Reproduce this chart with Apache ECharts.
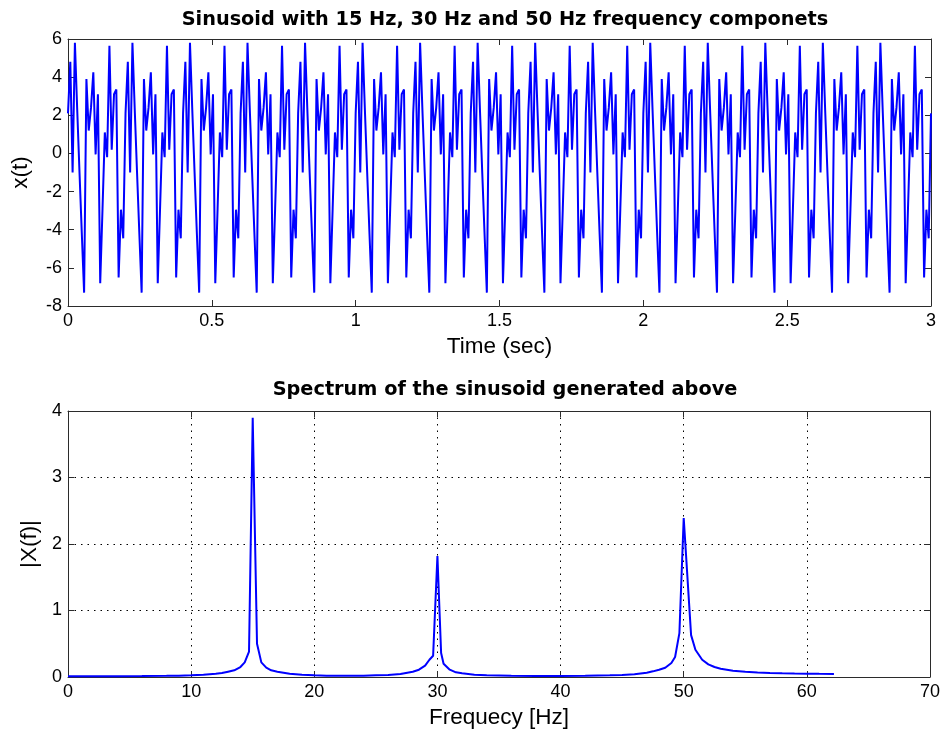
<!DOCTYPE html>
<html>
<head>
<meta charset="utf-8">
<script src="https://cdn.jsdelivr.net/npm/echarts@6/dist/echarts.min.js"></script>
<style>
html,body{margin:0;padding:0;background:#fff;}
#chart{width:943px;height:732px;}
</style>
</head>
<body>
<div id="chart"></div>
<script>
const sampleRate = 125;
const signalValues = [
  2.1, 4.8, -1.0, 5.8, 2.3, -1.0, -4.2, -7.3, 3.9, 1.2, 2.4, 4.25, -0.05, 3.1, -6.8, -2.9, 1.1, -0.2, 5.65, 0.2, 3.1, 3.35, -6.5, -2.95, -4.45,
  2.1, 4.8, -1.0, 5.8, 2.3, -1.0, -4.2, -7.3, 3.9, 1.2, 2.4, 4.25, -0.05, 3.1, -6.8, -2.9, 1.1, -0.2, 5.65, 0.2, 3.1, 3.35, -6.5, -2.95, -4.45,
  2.1, 4.8, -1.0, 5.8, 2.3, -1.0, -4.2, -7.3, 3.9, 1.2, 2.4, 4.25, -0.05, 3.1, -6.8, -2.9, 1.1, -0.2, 5.65, 0.2, 3.1, 3.35, -6.5, -2.95, -4.45,
  2.1, 4.8, -1.0, 5.8, 2.3, -1.0, -4.2, -7.3, 3.9, 1.2, 2.4, 4.25, -0.05, 3.1, -6.8, -2.9, 1.1, -0.2, 5.65, 0.2, 3.1, 3.35, -6.5, -2.95, -4.45,
  2.1, 4.8, -1.0, 5.8, 2.3, -1.0, -4.2, -7.3, 3.9, 1.2, 2.4, 4.25, -0.05, 3.1, -6.8, -2.9, 1.1, -0.2, 5.65, 0.2, 3.1, 3.35, -6.5, -2.95, -4.45,
  2.1, 4.8, -1.0, 5.8, 2.3, -1.0, -4.2, -7.3, 3.9, 1.2, 2.4, 4.25, -0.05, 3.1, -6.8, -2.9, 1.1, -0.2, 5.65, 0.2, 3.1, 3.35, -6.5, -2.95, -4.45,
  2.1, 4.8, -1.0, 5.8, 2.3, -1.0, -4.2, -7.3, 3.9, 1.2, 2.4, 4.25, -0.05, 3.1, -6.8, -2.9, 1.1, -0.2, 5.65, 0.2, 3.1, 3.35, -6.5, -2.95, -4.45,
  2.1, 4.8, -1.0, 5.8, 2.3, -1.0, -4.2, -7.3, 3.9, 1.2, 2.4, 4.25, -0.05, 3.1, -6.8, -2.9, 1.1, -0.2, 5.65, 0.2, 3.1, 3.35, -6.5, -2.95, -4.45,
  2.1, 4.8, -1.0, 5.8, 2.3, -1.0, -4.2, -7.3, 3.9, 1.2, 2.4, 4.25, -0.05, 3.1, -6.8, -2.9, 1.1, -0.2, 5.65, 0.2, 3.1, 3.35, -6.5, -2.95, -4.45,
  2.1, 4.8, -1.0, 5.8, 2.3, -1.0, -4.2, -7.3, 3.9, 1.2, 2.4, 4.25, -0.05, 3.1, -6.8, -2.9, 1.1, -0.2, 5.65, 0.2, 3.1, 3.35, -6.5, -2.95, -4.45,
  2.1, 4.8, -1.0, 5.8, 2.3, -1.0, -4.2, -7.3, 3.9, 1.2, 2.4, 4.25, -0.05, 3.1, -6.8, -2.9, 1.1, -0.2, 5.65, 0.2, 3.1, 3.35, -6.5, -2.95, -4.45,
  2.1, 4.8, -1.0, 5.8, 2.3, -1.0, -4.2, -7.3, 3.9, 1.2, 2.4, 4.25, -0.05, 3.1, -6.8, -2.9, 1.1, -0.2, 5.65, 0.2, 3.1, 3.35, -6.5, -2.95, -4.45,
  2.1, 4.8, -1.0, 5.8, 2.3, -1.0, -4.2, -7.3, 3.9, 1.2, 2.4, 4.25, -0.05, 3.1, -6.8, -2.9, 1.1, -0.2, 5.65, 0.2, 3.1, 3.35, -6.5, -2.95, -4.45,
  2.1, 4.8, -1.0, 5.8, 2.3, -1.0, -4.2, -7.3, 3.9, 1.2, 2.4, 4.25, -0.05, 3.1, -6.8, -2.9, 1.1, -0.2, 5.65, 0.2, 3.1, 3.35, -6.5, -2.95, -4.45,
  2.1, 4.8, -1.0, 5.8, 2.3, -1.0, -4.2, -7.3, 3.9, 1.2, 2.4, 4.25, -0.05, 3.1, -6.8, -2.9, 1.1, -0.2, 5.65, 0.2, 3.1, 3.35, -6.5, -2.95, -4.45,
  2.1
];

// ---- Bottom plot: magnitude spectrum ----
const spectrumFreq = [
  0, 2, 4, 6, 8, 9, 10, 11, 12, 12.5, 13, 13.5, 14, 14.35, 14.7, 15.0, 15.35, 15.7, 16.1, 16.5, 17, 17.5, 18, 19, 20,
  21, 22, 23, 24, 25, 26, 27, 28, 28.5, 29, 29.35, 29.65, 30.0, 30.3, 30.5, 31, 31.5, 32, 33, 34, 36, 38, 40,
  42, 44, 45, 46, 47, 47.5, 48, 48.5, 49, 49.3, 49.65, 50.0, 50.6, 50.95, 51.5, 52, 52.5, 53, 54, 55, 56, 57, 58, 59, 60, 61, 62.2
];
const spectrumMag = [
  0.012, 0.012, 0.013, 0.015, 0.018, 0.02, 0.027, 0.035, 0.05, 0.06, 0.08, 0.1, 0.15, 0.22, 0.38, 3.9, 0.5, 0.22, 0.14, 0.1, 0.08, 0.065, 0.05, 0.035, 0.025,
  0.02, 0.018, 0.018, 0.02, 0.025, 0.03, 0.045, 0.08, 0.11, 0.17, 0.26, 0.32, 1.82, 0.36, 0.2, 0.11, 0.07, 0.055, 0.035, 0.025, 0.018, 0.015, 0.015,
  0.018, 0.025, 0.03, 0.04, 0.065, 0.085, 0.11, 0.14, 0.21, 0.3, 0.66, 2.39, 0.63, 0.41, 0.26, 0.19, 0.15, 0.125, 0.095, 0.078, 0.068, 0.06, 0.055, 0.052, 0.05, 0.047, 0.045
];

// ---- Text ----
const titleTop = 'Sinusoid with 15 Hz, 30 Hz and 50 Hz frequency componets';
const titleBottom = 'Spectrum of the sinusoid generated above';
const xNameTop = 'Time (sec)';
const yNameTop = 'x(t)';
const xNameBottom = 'Frequecy [Hz]';
const yNameBottom = '|X(f)|';

const signalData = signalValues.map((v, i) => [i / sampleRate, v]);
const spectrumData = spectrumFreq.map((f, i) => [f, spectrumMag[i]]);

const FONT = '"Liberation Sans", Arial, Helvetica, sans-serif';
const TITLE_FONT = '"DejaVu Sans", "Liberation Sans", Arial, sans-serif';
const TXT = '#000';
const FRAME = '#2b2b2b';

function mainX(gridIndex, min, max, interval, name, showGrid) {
  return {
    type: 'value', gridIndex, min, max, interval, position: 'bottom',
    name, nameLocation: 'middle', nameGap: 29,
    nameTextStyle: { fontFamily: FONT, fontSize: 22.5, color: TXT, verticalAlign: 'top' },
    axisLine: { show: true, onZero: false, lineStyle: { color: FRAME, width: 1 } },
    axisTick: { show: true, inside: true, length: 6, lineStyle: { color: FRAME } },
    axisLabel: { fontFamily: FONT, fontSize: 18, color: TXT, margin: 6 },
    splitLine: { show: showGrid, lineStyle: { color: '#000', type: [1.5, 5], width: 1 } }
  };
}
function mainY(gridIndex, min, max, interval, name, showGrid, gap) {
  return {
    type: 'value', gridIndex, min, max, interval, position: 'left',
    name, nameLocation: 'middle', nameGap: gap,
    nameTextStyle: { fontFamily: FONT, fontSize: 22.5, color: TXT },
    axisLine: { show: true, onZero: false, lineStyle: { color: FRAME, width: 1 } },
    axisTick: { show: true, inside: true, length: 6, lineStyle: { color: FRAME } },
    axisLabel: { fontFamily: FONT, fontSize: 18, color: TXT, margin: 6 },
    splitLine: { show: showGrid, lineStyle: { color: '#000', type: [1.5, 5], width: 1 } }
  };
}
function mirrorX(gridIndex, min, max, interval) {
  return {
    type: 'value', gridIndex, min, max, interval, position: 'top',
    axisLine: { show: true, onZero: false, lineStyle: { color: FRAME, width: 1 } },
    axisTick: { show: true, inside: true, length: 6, lineStyle: { color: FRAME } },
    axisLabel: { show: false }, splitLine: { show: false }
  };
}
function mirrorY(gridIndex, min, max, interval) {
  return {
    type: 'value', gridIndex, min, max, interval, position: 'right',
    axisLine: { show: true, onZero: false, lineStyle: { color: FRAME, width: 1 } },
    axisTick: { show: true, inside: true, length: 6, lineStyle: { color: FRAME } },
    axisLabel: { show: false }, splitLine: { show: false }
  };
}

const chart = echarts.init(document.getElementById('chart'), null, { renderer: 'canvas' });
chart.setOption({
  animation: false,
  backgroundColor: '#fff',
  title: [
    { text: titleTop, left: 500, top: 5, textAlign: 'center',
      textStyle: { fontFamily: TITLE_FONT, fontSize: 19.3, fontWeight: 'bold', color: TXT } },
    { text: titleBottom, left: 500, top: 375, textAlign: 'center',
      textStyle: { fontFamily: TITLE_FONT, fontSize: 19.3, fontWeight: 'bold', color: TXT } }
  ],
  grid: [
    { left: 68, top: 39, width: 863, height: 267 },
    { left: 68, top: 411, width: 863, height: 266 }
  ],
  xAxis: [
    mainX(0, 0, 3, 0.5, xNameTop, false),
    mirrorX(0, 0, 3, 0.5),
    mainX(1, 0, 70, 10, xNameBottom, true),
    mirrorX(1, 0, 70, 10)
  ],
  yAxis: [
    mainY(0, -8, 6, 2, yNameTop, false, 36),
    mirrorY(0, -8, 6, 2),
    mainY(1, 0, 4, 1, yNameBottom, true, 27),
    mirrorY(1, 0, 4, 1)
  ],
  series: [
    { type: 'line', xAxisIndex: 0, yAxisIndex: 0, data: signalData, showSymbol: false,
      lineStyle: { color: '#0000ff', width: 2 }, sampling: null, z: 3 },
    { type: 'line', xAxisIndex: 2, yAxisIndex: 2, data: spectrumData, showSymbol: false,
      lineStyle: { color: '#0000ff', width: 2 }, z: 3 }
  ]
});
</script>
</body>
</html>
